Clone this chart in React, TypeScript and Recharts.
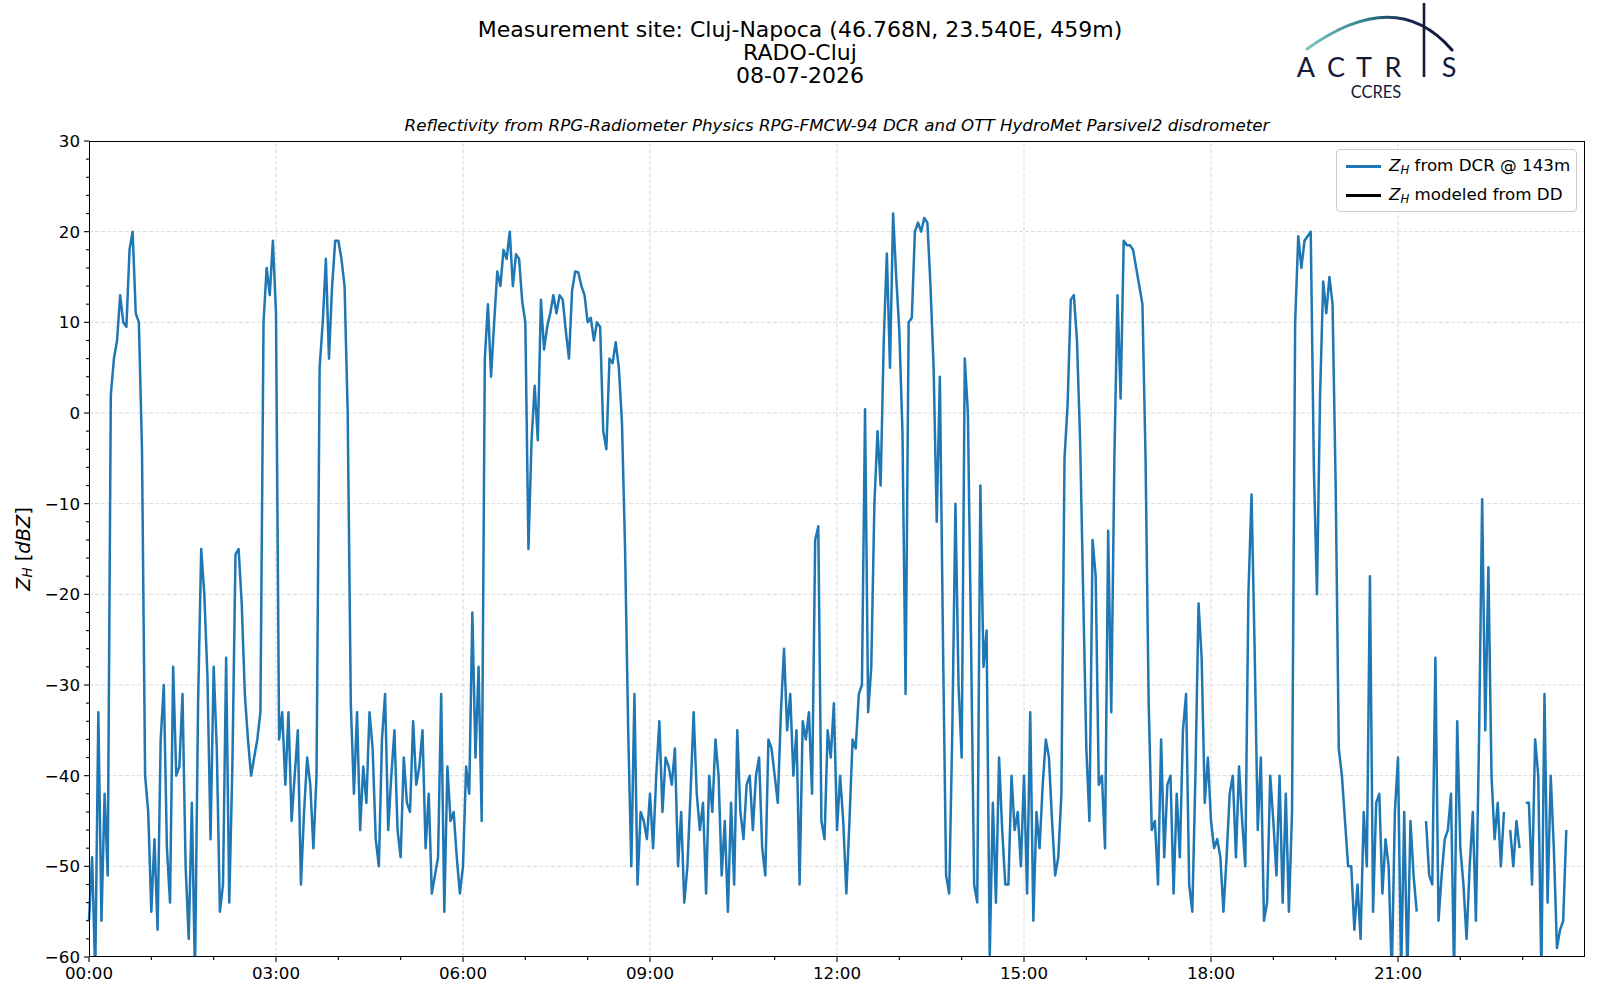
import { Line, LineChart, ReferenceLine, XAxis, YAxis } from "recharts";

// sampling step of the DCR series, in hours (3 min)
const STEP_H = 0.05;

// Z_H from DCR @ 143m, dBZ, one list per 3 hours
const dcr00 = [-56, -49, -62, -33, -56, -42, -51, 2, 6, 8, 13, 10, 9.5, 18, 20, 11, 10, -4, -40, -44, -55, -47, -57, -36, -30, -48, -54, -28, -40, -39, -31, -50, -58, -43, -62, -32, -15, -20, -29, -47, -28, -37, -55, -52, -27, -54, -39, -15.6, -15, -21, -31, -36, -40, -38, -36, -33, 10, 16, 13, 19];
const dcr03 = [11, -36, -33, -41, -33, -45, -40, -35, -52, -44, -38, -41, -48, -40, 5, 10, 17, 6, 14, 19, 19, 17, 14, 0, -32, -42, -33, -46, -39, -43, -33, -37, -47, -50, -36, -31, -46, -40, -35, -46, -49, -38, -43, -44, -34, -41, -39, -35, -48, -42, -53, -51, -49, -31, -55, -39, -45, -44, -49, -53];
const dcr06 = [-50, -39, -42, -22, -38, -28, -45, 6, 12, 4, 10, 15.6, 14, 18, 17, 20, 14, 17.5, 17, 12.3, 10, -15, -3, 3, -3, 12.5, 7, 9.5, 11, 13, 11, 13, 12.5, 9, 6, 13.5, 15.6, 15.5, 14, 13, 10, 10.5, 8, 10, 9.5, -2, -4, 6, 5.5, 7.8, 5, -1, -15, -35, -50, -31, -52, -44, -45, -47];
const dcr09 = [-42, -48, -40, -34, -44, -38, -39, -41, -37, -50, -44, -54, -50, -42, -33, -42, -46, -43, -53, -40, -44, -36, -40, -51, -45, -55, -43, -52, -35, -44, -47, -41, -40, -46, -40, -38, -48, -51, -36, -37, -40, -43, -33, -26, -35, -31, -40, -35, -52, -34, -36, -33, -42, -14, -12.5, -45, -47, -35, -38, -32];
const dcr12 = [-46, -40, -45, -53, -45, -36, -37, -31, -30, 0.4, -33, -28, -10, -2, -8, 8, 17.6, 5, 22, 15, 9, -2, -31, 10, 10.5, 20, 21, 20, 21.5, 21, 14, 5, -12, 4, -25, -51, -53, -35, -10, -30, -38, 6, 0, -25, -52, -54, -8, -28, -24, -60, -43, -54, -38, -46, -52, -52, -40, -46, -44, -50];
const dcr15 = [-40, -53, -33, -56, -44, -48, -41, -36, -38, -45, -51, -49, -42, -5, 1, 12.5, 13, 8, -3, -20, -37, -45, -14, -18, -41, -40, -48, -13, -33, -5, 13, 1.6, 19, 18.5, 18.5, 18, 16, 14, 12, -5, -32, -46, -45, -52, -36, -49, -41, -40, -53, -42, -49, -35, -31, -52, -55, -40, -21, -27, -43, -38];
const dcr18 = [-45, -48, -47, -49, -55, -49, -42, -40, -49, -39, -45, -50, -20, -9, -26, -46, -38, -56, -54, -40, -45, -51, -40, -54, -42, -55, -44, 10, 19.5, 16, 19, 19.5, 20, -6, -20, 2, 14.5, 11, 15, 12, -8, -37, -40, -45, -50, -50, -57, -52, -58, -44, -50, -18, -55, -43, -42, -53, -47, -50, -62, -44];
const dcr21 = [-38, -62, -44, -62, -45, -51, -55, null, null, -45, -51, -52, -27, -56, -51, -47, -46, -42, -62, -34, -48, -52, -58, -50, -44, -56, -36, -9.5, -35, -17, -40, -47, -43, -50, -44, null, -46, -50, -45, -48, null, -43, -43, -52, -36, -40, -62, -31, -54, -40, -48, -59, -57, -56, -46];

// start hour of each list above
const BLOCK_STARTS = [0, 3, 6, 9, 12, 15, 18, 21];
const BLOCKS = [dcr00, dcr03, dcr06, dcr09, dcr12, dcr15, dcr18, dcr21];

const X_MAJOR_TICKS = [0, 3, 6, 9, 12, 15, 18, 21];
const X_ALL_TICKS = [0, 1, 2, 3, 4, 5, 6, 7, 8, 9, 10, 11, 12, 13, 14, 15, 16, 17, 18, 19, 20, 21, 22, 23];
const Y_MAJOR_TICKS = [-60, -50, -40, -30, -20, -10, 0, 10, 20, 30];
const Y_ALL_TICKS = [-60, -58, -56, -54, -52, -50, -48, -46, -44, -42, -40, -38, -36, -34, -32, -30, -28, -26, -24, -22, -20, -18, -16, -14, -12, -10, -8, -6, -4, -2, 0, 2, 4, 6, 8, 10, 12, 14, 16, 18, 20, 22, 24, 26, 28, 30];

const rows = BLOCKS.flatMap((vals, b) =>
  vals.map((v, i) => ({ t: BLOCK_STARTS[b] + i * STEP_H, dcr: v, dd: null })),
);

const FONT = "'DejaVu Sans', sans-serif";
const BLUE = "#1f77b4";

const fmtY = (v: number) => (v < 0 ? `\u2212${Math.abs(v)}` : `${v}`);
const fmtX = (h: number) => `${String(h).padStart(2, "0")}:00`;

function YTick({ x, y, payload }: any) {
  const major = Y_MAJOR_TICKS.includes(payload.value);
  return (
    <g>
      <line x1={x} x2={x - (major ? 5 : 3)} y1={y} y2={y} stroke="#000" strokeWidth={1.1} />
      {major && (
        <text x={x - 9} y={y} dy={6} textAnchor="end" fontSize={16.7} fontFamily={FONT} fill="#000">
          {fmtY(payload.value)}
        </text>
      )}
    </g>
  );
}

function XTick({ x, y, payload }: any) {
  const major = X_MAJOR_TICKS.includes(payload.value);
  return (
    <g>
      <line x1={x} x2={x} y1={y} y2={y + (major ? 5 : 3)} stroke="#000" strokeWidth={1.1} />
      {major && (
        <text x={x} y={y + 22} textAnchor="middle" fontSize={16.7} fontFamily={FONT} fill="#000">
          {fmtX(payload.value)}
        </text>
      )}
    </g>
  );
}

function Zh() {
  return (
    <>
      <i>Z</i>
      <sub style={{ fontSize: "0.7em", fontStyle: "italic", verticalAlign: "-0.25em" }}>H</sub>
    </>
  );
}

function LegendBox() {
  const row = (color: string, label: React.ReactNode) => (
    <div style={{ display: "flex", alignItems: "center", height: 29 }}>
      <div style={{ width: 35, height: 2.5, background: color, marginRight: 8 }} />
      <span>{label}</span>
    </div>
  );
  return (
    <div
      style={{
        position: "absolute",
        left: 1336,
        top: 149,
        width: 241,
        height: 63,
        boxSizing: "border-box",
        border: "1px solid #cccccc",
        borderRadius: 4,
        background: "rgba(255,255,255,0.8)",
        padding: "2px 0 0 9px",
        fontFamily: FONT,
        fontSize: 16.7,
        color: "#000",
        lineHeight: 1,
      }}
    >
      {row(BLUE, <><Zh /> from DCR @ 143m</>)}
      {row("#000", <><Zh /> modeled from DD</>)}
    </div>
  );
}

function Overlay() {
  return (
    <svg width={1600} height={1000} style={{ position: "absolute", left: 0, top: 0, pointerEvents: "none" }}>
      <defs>
        <linearGradient id="arcGrad" x1="0" y1="0" x2="1" y2="0">
          <stop offset="0%" stopColor="#7cc8c4" />
          <stop offset="40%" stopColor="#2f7d8f" />
          <stop offset="70%" stopColor="#1b2550" />
          <stop offset="100%" stopColor="#0e1236" />
        </linearGradient>
      </defs>
      <g fontFamily={FONT} fill="#000" textAnchor="middle">
        <text x={800} y={37} fontSize={22}>Measurement site: Cluj-Napoca (46.768N, 23.540E, 459m)</text>
        <text x={800} y={60} fontSize={22}>RADO-Cluj</text>
        <text x={800} y={83} fontSize={22}>08-07-2026</text>
        <text x={837} y={131} fontSize={16.7} fontStyle="italic">
          Reflectivity from RPG-Radiometer Physics RPG-FMCW-94 DCR and OTT HydroMet Parsivel2 disdrometer
        </text>
        <text x={23} y={549} fontSize={19.4} transform="rotate(-90, 23, 549)" dominantBaseline="central">
          <tspan fontStyle="italic">Z</tspan>
          <tspan fontStyle="italic" fontSize={13.5} dy={4}>H</tspan>
          <tspan dy={-4}> [</tspan>
          <tspan fontStyle="italic">dBZ</tspan>
          <tspan>]</tspan>
        </text>
      </g>
      {/* ACTRIS / CCRES logo */}
      <path d="M1307 49 Q1396 -15 1452 50" fill="none" stroke="url(#arcGrad)" strokeWidth={3} strokeLinecap="round" />
      <line x1={1424} x2={1424} y1={3} y2={77} stroke="#141a3c" strokeWidth={2.6} />
      <g fontFamily="Lato, 'Open Sans', sans-serif" fontSize={27} fill="#141a3c" textAnchor="middle">
        <text x={1306} y={77}>A</text>
        <text x={1336} y={77}>C</text>
        <text x={1364} y={77}>T</text>
        <text x={1393} y={77}>R</text>
        <text x={1449} y={77}>S</text>
      </g>
      <text x={1376} y={98} fontFamily="Lato, 'Open Sans', sans-serif" fontSize={16.5} fill="#141a3c" textAnchor="middle">
        CCRES
      </text>
    </svg>
  );
}

export default function App() {
  return (
    <div style={{ position: "absolute", left: 0, top: 0, width: 1600, height: 1000, background: "#fff" }}>
      <LineChart width={1600} height={1000} data={rows} margin={{ top: 141, right: 15, bottom: 13, left: 29 }}>
        <XAxis
          dataKey="t"
          type="number"
          domain={[0, 24]}
          ticks={X_ALL_TICKS}
          interval={0}
          tick={<XTick />}
          tickSize={0}
          tickMargin={0}
          tickLine={false}
          axisLine={false}
          height={30}
        />
        <YAxis
          type="number"
          domain={[-60, 30]}
          ticks={Y_ALL_TICKS}
          interval={0}
          tick={<YTick />}
          tickSize={0}
          tickMargin={0}
          tickLine={false}
          axisLine={false}
          allowDataOverflow
          width={60}
        />
        {X_MAJOR_TICKS.filter((h) => h > 0).map((h) => (
          <ReferenceLine key={`gx${h}`} x={h} stroke="#d0d0d0" strokeWidth={0.8} strokeDasharray="4 2" />
        ))}
        {Y_MAJOR_TICKS.filter((v) => v > -60 && v < 30).map((v) => (
          <ReferenceLine key={`gy${v}`} y={v} stroke="#d0d0d0" strokeWidth={0.8} strokeDasharray="4 2" />
        ))}
        <Line
          type="linear"
          dataKey="dcr"
          name="Z_H from DCR @ 143m"
          stroke={BLUE}
          strokeWidth={2.5}
          strokeLinejoin="round"
          dot={false}
          activeDot={false}
          connectNulls={false}
          isAnimationActive={false}
        />
        <Line
          type="linear"
          dataKey="dd"
          name="Z_H modeled from DD"
          stroke="#000"
          strokeWidth={2}
          dot={false}
          activeDot={false}
          isAnimationActive={false}
        />
      </LineChart>
      {/* axes frame */}
      <div
        style={{
          position: "absolute",
          left: 89,
          top: 141,
          width: 1496,
          height: 816,
          boxSizing: "border-box",
          border: "1.1px solid #000",
          pointerEvents: "none",
        }}
      />
      <LegendBox />
      <Overlay />
    </div>
  );
}
